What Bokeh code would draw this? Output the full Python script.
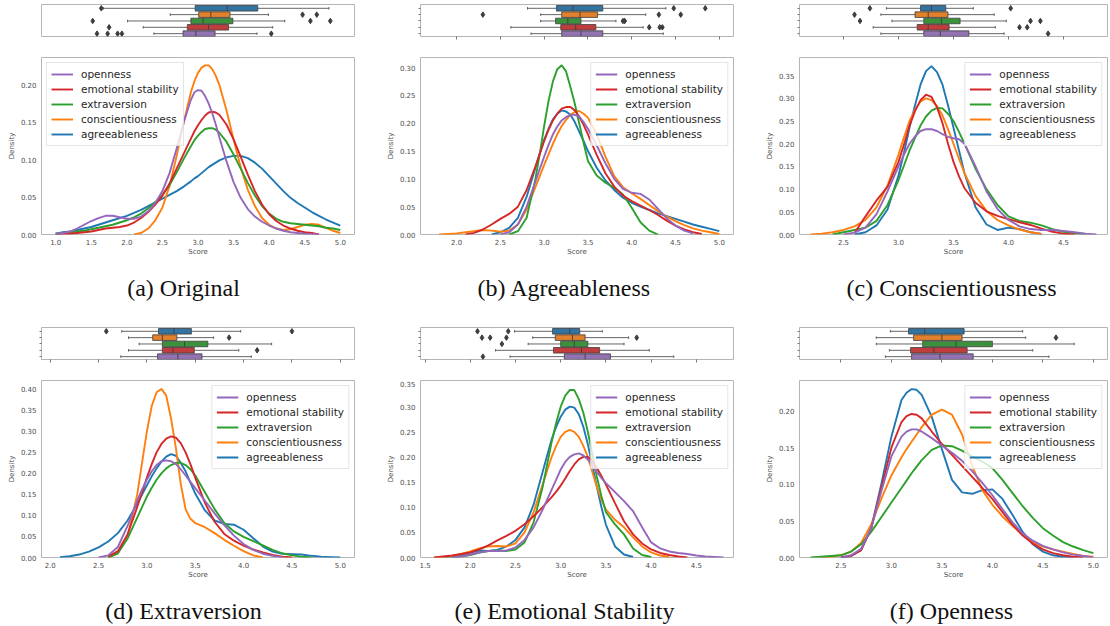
import numpy as np
from bokeh.plotting import figure
from bokeh.models import Range1d, FixedTicker, PrintfTickFormatter, CustomJSTickFormatter, Legend, LegendItem
from bokeh.layouts import column, row
from bokeh.embed import file_html
from bokeh.resources import INLINE
from bokeh.core.properties import value

# ---------------- data ----------------
LEGEND_ORDER = ["openness", "emotional stability", "extraversion", "conscientiousness", "agreeableness"]
BOX_ORDER = ["agreeableness", "conscientiousness", "extraversion", "emotional stability", "openness"]
CAPTIONS = ["(a) Original", "(b) Agreeableness", "(c) Conscientiousness",
            "(d) Extraversion", "(e) Emotional Stability", "(f) Openness"]

# panel (a)
A_X = [1.0, 1.1, 1.2, 1.3, 1.4, 1.5, 1.6, 1.7, 1.8, 1.9, 2.0, 2.1, 2.2, 2.3, 2.4, 2.5, 2.6, 2.7, 2.8, 2.9,
       3.0, 3.1, 3.2, 3.3, 3.4, 3.5, 3.6, 3.7, 3.8, 3.9, 4.0, 4.1, 4.2, 4.3, 4.4, 4.5, 4.6, 4.7, 4.8, 4.9, 5.0]
A_OPENNESS = [0.001, 0.002, 0.004, 0.008, 0.013, 0.018, 0.022, 0.025, 0.025, 0.023,
              0.021, 0.021, 0.024, 0.031, 0.042, 0.058, 0.082, 0.115, 0.150, 0.180,
              0.193, 0.185, 0.162, 0.130, 0.098, 0.070, 0.049, 0.034, 0.024, 0.017,
              0.012, 0.008, 0.005, 0.003, 0.002, 0.001, 0.0005, 0.0, None, None, None]
A_EMOTIONAL = [0.000, 0.001, 0.001, 0.002, 0.003, 0.004, 0.006, 0.008, 0.009, 0.010,
               0.012, 0.016, 0.022, 0.030, 0.040, 0.052, 0.068, 0.088, 0.108, 0.128,
               0.146, 0.159, 0.164, 0.160, 0.147, 0.127, 0.104, 0.080, 0.058, 0.040,
               0.027, 0.018, 0.012, 0.008, 0.005, 0.003, 0.002, 0.000, None, None, None]
A_EXTRAVERSION = [0.001, 0.002, 0.003, 0.004, 0.005, 0.007, 0.009, 0.011, 0.013, 0.016,
                  0.019, 0.023, 0.028, 0.035, 0.043, 0.053, 0.066, 0.083, 0.101, 0.118,
                  0.132, 0.141, 0.142, 0.136, 0.124, 0.107, 0.088, 0.069, 0.052, 0.038,
                  0.028, 0.021, 0.017, 0.015, 0.014, 0.013, 0.012, 0.011, 0.009, 0.008, 0.006]
A_CONSCIENTIOUSNESS = [None, None, None, None, None, None, None, None, None, None,
                       None, 0.000, 0.002, 0.008, 0.019, 0.036, 0.065, 0.105, 0.150, 0.190,
                       0.216, 0.226, 0.221, 0.200, 0.166, 0.127, 0.090, 0.060, 0.038, 0.022,
                       0.013, 0.008, 0.006, 0.007, 0.010, 0.013, 0.014, 0.013, 0.009, 0.005, 0.002]
A_AGREEABLENESS = [0.001, 0.003, 0.004, 0.006, 0.008, 0.010, 0.013, 0.016, 0.019, 0.022,
                   0.025, 0.029, 0.033, 0.038, 0.043, 0.048, 0.053, 0.058, 0.064, 0.071,
                   0.078, 0.086, 0.093, 0.099, 0.103, 0.105, 0.105, 0.102, 0.096, 0.088,
                   0.078, 0.068, 0.058, 0.049, 0.042, 0.036, 0.030, 0.025, 0.020, 0.016, 0.012]
A_FINE_X = [2.95, 3.05, 3.15, 3.25]
A_FINE = [[0.190, 0.192, 0.175, 0.147],     # openness
          [0.138, 0.153, 0.163, 0.163],     # emotional stability
          [0.126, 0.137, 0.142, 0.140],     # extraversion
          [0.205, 0.223, 0.226, 0.212],     # conscientiousness
          [0.075, 0.082, 0.090, 0.096]]     # agreeableness
A_LOW = [1.67, 2.61, 2.01, 2.23, 2.38]
A_Q1 = [2.96, 3.01, 2.90, 2.85, 2.79]
A_MED = [3.41, 3.18, 3.07, 3.15, 2.97]
A_Q3 = [3.84, 3.45, 3.49, 3.43, 3.24]
A_HIGH = [4.84, 3.99, 4.22, 4.05, 3.83]
A_OUT_X = [1.64, 4.47, 4.67, 1.52, 4.58, 4.86, 1.75, 1.58, 1.73, 1.87, 1.93, 4.03]
A_OUT_ROW = [0, 1, 1, 2, 2, 2, 3, 4, 4, 4, 4, 4]
A_XTICKS = [1.0, 1.5, 2.0, 2.5, 3.0, 3.5, 4.0, 4.5, 5.0]
A_YTICKS = [0.0, 0.05, 0.10, 0.15, 0.20]

# panel (b)
B_X = [1.8, 1.9, 2.0, 2.1, 2.2, 2.3, 2.4, 2.5, 2.6, 2.7, 2.8, 2.9, 3.0, 3.1, 3.2, 3.3, 3.4, 3.5, 3.6, 3.7,
       3.8, 3.9, 4.0, 4.1, 4.2, 4.3, 4.4, 4.5, 4.6, 4.7, 4.8, 4.9, 5.0]
B_OPENNESS = [None, None,
              None, None, None, None, None, 0.000, 0.004, 0.018, 0.050, 0.095,
              0.140, 0.180, 0.205, 0.215, 0.212, 0.190, 0.160, 0.128, 0.100, 0.082,
              0.075, 0.073, 0.063, 0.046, 0.029, 0.016, 0.007, 0.002, None, None, None]
B_EMOTIONAL = [None, None,
               None, 0.000, 0.003, 0.009, 0.018, 0.028, 0.037, 0.050, 0.080, 0.122,
               0.168, 0.205, 0.226, 0.229, 0.212, 0.180, 0.143, 0.110, 0.086, 0.070,
               0.060, 0.052, 0.044, 0.035, 0.025, 0.016, 0.009, 0.004, 0.001, None, None]
B_EXTRAVERSION = [None, None,
                  None, None, None, None, None, None, 0.000, 0.006, 0.030, 0.100,
                  0.195, 0.275, 0.304, 0.265, 0.200, 0.132, 0.106, 0.093, 0.084, 0.072,
                  0.048, 0.022, 0.007, 0.000, None, None, None, None, None, None, None]
B_CONSCIENTIOUSNESS = [0.000, 0.001,
                       0.002, 0.004, 0.006, 0.008, 0.007, 0.005, 0.007, 0.018, 0.045, 0.085,
                       0.125, 0.163, 0.195, 0.215, 0.222, 0.210, 0.180, 0.140, 0.105, 0.085,
                       0.074, 0.064, 0.053, 0.042, 0.032, 0.024, 0.017, 0.011, 0.007, 0.004, 0.001]
B_AGREEABLENESS = [None, None,
                   None, None, None, None, 0.000, 0.004, 0.012, 0.030, 0.068, 0.120,
                   0.170, 0.207, 0.223, 0.215, 0.185, 0.150, 0.120, 0.097, 0.080, 0.066,
                   0.057, 0.050, 0.044, 0.038, 0.033, 0.028, 0.023, 0.018, 0.014, 0.010, 0.006]
B_FINE_X = [2.95, 3.05, 3.15, 3.25, 3.35, 3.45]
B_FINE = [[0.118, 0.161, 0.194, 0.211, 0.215, 0.202],
          [0.145, 0.188, 0.217, 0.229, 0.223, 0.197],
          [0.145, 0.240, 0.297, 0.293, 0.235, 0.165],
          [0.105, 0.144, 0.180, 0.206, 0.220, 0.217],
          [0.146, 0.190, 0.217, 0.221, 0.202, 0.168]]
B_LOW = [2.81, 2.96, 2.96, 2.62, 2.85]
B_Q1 = [3.14, 3.20, 3.13, 3.19, 3.20]
B_MED = [3.33, 3.41, 3.27, 3.36, 3.42]
B_Q3 = [3.67, 3.61, 3.42, 3.59, 3.67]
B_HIGH = [4.39, 4.16, 3.82, 4.13, 4.36]
B_OUT_X = [4.48, 4.84, 2.30, 4.31, 4.56, 3.90, 3.92, 4.20, 4.32, 4.35]
B_OUT_ROW = [0, 0, 1, 1, 1, 2, 2, 3, 3, 3]
B_XTICKS = [2.0, 2.5, 3.0, 3.5, 4.0, 4.5, 5.0]
B_YTICKS = [0.0, 0.05, 0.10, 0.15, 0.20, 0.25, 0.30]

# panel (c)
C_X = [2.2, 2.3, 2.4, 2.5, 2.6, 2.7, 2.8, 2.9, 3.0, 3.1, 3.2, 3.3, 3.4, 3.5, 3.6, 3.7, 3.8, 3.9,
       4.0, 4.1, 4.2, 4.3, 4.4, 4.5, 4.6, 4.7, 4.8]
C_OPENNESS = [None, None, None, 0.000, 0.004, 0.015, 0.045, 0.095,
              0.150, 0.200, 0.228, 0.232, 0.221, 0.212, 0.200, 0.150, 0.095, 0.056,
              0.032, 0.018, 0.012, 0.010, 0.010, 0.008, 0.005, 0.002, 0.000]
C_EMOTIONAL = [None, None, None, None, 0.003, 0.040, 0.075, 0.105,
               0.160, 0.240, 0.296, 0.303, 0.245, 0.160, 0.102, 0.070, 0.051, 0.041,
               0.034, 0.027, 0.021, 0.013, 0.006, 0.002, 0.000, None, None]
C_EXTRAVERSION = [None, None, 0.000, 0.005, 0.010, 0.015, 0.030, 0.065,
                  0.120, 0.185, 0.240, 0.273, 0.278, 0.250, 0.200, 0.145, 0.100, 0.065,
                  0.040, 0.030, 0.026, 0.020, 0.012, 0.006, 0.003, 0.001, None]
C_CONSCIENTIOUSNESS = [0.000, 0.002, 0.005, 0.010, 0.018, 0.032, 0.060, 0.108,
                       0.176, 0.250, 0.293, 0.296, 0.262, 0.200, 0.135, 0.085, 0.052, 0.032,
                       0.020, 0.011, 0.005, 0.001, None, None, None, None, None]
C_AGREEABLENESS = [None, None, None, None, 0.000, 0.005, 0.020, 0.055,
                   0.130, 0.235, 0.330, 0.371, 0.330, 0.235, 0.135, 0.060, 0.022, 0.010,
                   0.015, 0.012, 0.005, 0.001, None, None, None, None, None]
C_FINE_X = [3.05, 3.15, 3.25, 3.35, 3.45, 3.55]
C_FINE = [[0.176, 0.216, 0.232, 0.228, 0.215, 0.210],
          [0.198, 0.272, 0.308, 0.280, 0.200, 0.128],
          [0.152, 0.213, 0.260, 0.279, 0.266, 0.226],
          [0.214, 0.275, 0.300, 0.283, 0.232, 0.167],
          [0.180, 0.285, 0.360, 0.358, 0.285, 0.185]]
C_LOW = [2.89, 2.84, 2.94, 2.77, 2.84]
C_Q1 = [3.20, 3.15, 3.23, 3.17, 3.23]
C_MED = [3.30, 3.27, 3.39, 3.27, 3.38]
C_Q3 = [3.43, 3.45, 3.56, 3.46, 3.64]
C_HIGH = [3.68, 3.87, 3.98, 3.88, 3.96]
C_OUT_X = [2.74, 4.02, 2.60, 2.65, 4.20, 4.29, 4.10, 4.17, 4.36]
C_OUT_ROW = [0, 0, 1, 2, 2, 2, 3, 3, 4]
C_XTICKS = [2.5, 3.0, 3.5, 4.0, 4.5]
C_YTICKS = [0.0, 0.05, 0.10, 0.15, 0.20, 0.25, 0.30, 0.35]

# panel (d)
D_X = [2.0, 2.1, 2.2, 2.3, 2.4, 2.5, 2.6, 2.7, 2.8, 2.9, 3.0, 3.1, 3.2, 3.3, 3.4, 3.5, 3.6, 3.7, 3.8, 3.9,
       4.0, 4.1, 4.2, 4.3, 4.4, 4.5, 4.6, 4.7, 4.8, 4.9, 5.0]
D_OPENNESS = [None, None, None, None, None, 0.000, 0.005, 0.025, 0.075, 0.135,
              0.185, 0.220, 0.231, 0.222, 0.195, 0.165, 0.135, 0.105, 0.077, 0.052,
              0.032, 0.018, 0.009, 0.004, 0.001, None, None, None, None, None, None]
D_EMOTIONAL = [None, None, None, None, None, None, 0.002, 0.015, 0.055, 0.120,
               0.190, 0.250, 0.283, 0.285, 0.250, 0.190, 0.130, 0.085, 0.056, 0.040,
               0.028, 0.019, 0.012, 0.006, 0.002, 0.000, None, None, None, None, None]
D_EXTRAVERSION = [None, None, None, None, None, None, 0.000, 0.010, 0.045, 0.095,
                  0.145, 0.185, 0.212, 0.225, 0.220, 0.195, 0.155, 0.115, 0.082, 0.062,
                  0.049, 0.039, 0.029, 0.018, 0.010, 0.005, 0.002, 0.000, None, None, None]
D_CONSCIENTIOUSNESS = [None, None, None, None, None, None, 0.000, 0.010, 0.050, 0.150,
                       0.300, 0.393, 0.385, 0.260, 0.115, 0.082, 0.072, 0.058, 0.042, 0.028,
                       0.015, 0.005, 0.000, None, None, None, None, None, None, None, None]
D_AGREEABLENESS = [None, 0.001, 0.003, 0.007, 0.014, 0.024, 0.038, 0.058, 0.088, 0.128,
                   0.172, 0.212, 0.240, 0.242, 0.205, 0.152, 0.112, 0.088, 0.080, 0.078,
                   0.066, 0.046, 0.026, 0.014, 0.009, 0.008, 0.007, 0.004, 0.002, 0.001, 0.000]
D_FINE_X = [2.95, 3.05, 3.15, 3.25, 3.35, 3.45]
D_FINE = [[0.162, 0.205, 0.229, 0.229, 0.210, 0.180],
          [0.155, 0.222, 0.270, 0.288, 0.272, 0.222],
          [0.120, 0.166, 0.200, 0.220, 0.225, 0.210],
          [0.225, 0.360, 0.401, 0.330, 0.175, 0.092],
          [0.150, 0.193, 0.228, 0.246, 0.225, 0.178]]
D_LOW = [2.74, 2.81, 2.92, 2.81, 2.73]
D_Q1 = [3.12, 3.06, 3.16, 3.16, 3.11]
D_MED = [3.28, 3.16, 3.39, 3.27, 3.32]
D_Q3 = [3.46, 3.31, 3.63, 3.49, 3.57]
D_HIGH = [3.97, 3.69, 4.29, 3.95, 4.08]
D_OUT_X = [2.58, 4.50, 3.85, 4.14]
D_OUT_ROW = [0, 0, 1, 3]
D_XTICKS = [2.0, 2.5, 3.0, 3.5, 4.0, 4.5, 5.0]
D_YTICKS = [0.0, 0.05, 0.10, 0.15, 0.20, 0.25, 0.30, 0.35, 0.40]

# panel (e)
E_X = [1.6, 1.7, 1.8, 1.9, 2.0, 2.1, 2.2, 2.3, 2.4, 2.5, 2.6, 2.7, 2.8, 2.9, 3.0, 3.1, 3.2, 3.3, 3.4, 3.5,
       3.6, 3.7, 3.8, 3.9, 4.0, 4.1, 4.2, 4.3, 4.4, 4.5, 4.6, 4.7, 4.8]
E_OPENNESS = [None, None, 0.000, 0.002,
              0.006, 0.010, 0.013, 0.013, 0.014, 0.020, 0.035, 0.060, 0.095, 0.135,
              0.175, 0.200, 0.207, 0.195, 0.170, 0.148, 0.130, 0.112, 0.092, 0.060,
              0.030, 0.018, 0.012, 0.009, 0.007, 0.004, 0.002, 0.001, 0.000]
E_EMOTIONAL = [0.000, 0.002, 0.004, 0.007,
               0.010, 0.016, 0.024, 0.034, 0.043, 0.053, 0.066, 0.082, 0.100, 0.120,
               0.143, 0.172, 0.195, 0.200, 0.178, 0.145, 0.108, 0.072, 0.046, 0.028,
               0.016, 0.009, 0.005, 0.002, 0.000, None, None, None, None]
E_EXTRAVERSION = [None, None, 0.000, 0.002,
                  0.005, 0.010, 0.013, 0.014, 0.013, 0.016, 0.030, 0.070, 0.140, 0.230,
                  0.300, 0.333, 0.315, 0.250, 0.160, 0.090, 0.066, 0.046, 0.018, 0.005,
                  0.001, None, None, None, None, None, None, None, None]
E_CONSCIENTIOUSNESS = [0.000, 0.001, 0.003, 0.007,
                       0.012, 0.018, 0.022, 0.023, 0.022, 0.028, 0.050, 0.090, 0.145, 0.200,
                       0.240, 0.254, 0.240, 0.200, 0.140, 0.095, 0.075, 0.060, 0.040, 0.022,
                       0.010, 0.004, 0.001, None, None, None, None, None, None]
E_AGREEABLENESS = [None, 0.000, 0.002, 0.005,
                   0.010, 0.014, 0.013, 0.015, 0.022, 0.035, 0.060, 0.105, 0.170, 0.235,
                   0.280, 0.300, 0.285, 0.225, 0.140, 0.065, 0.022, 0.006, 0.001, None,
                   None, None, None, None, None, None, None, None, None]
E_FINE_X = [2.85, 2.95, 3.05, 3.15, 3.25, 3.35, 3.45]
E_FINE = [[0.115, 0.155, 0.190, 0.205, 0.203, 0.183, 0.158],
          [0.110, 0.131, 0.157, 0.185, 0.200, 0.192, 0.162],
          [0.185, 0.268, 0.322, 0.333, 0.288, 0.205, 0.122],
          [0.173, 0.222, 0.250, 0.250, 0.222, 0.170, 0.115],
          [0.203, 0.260, 0.294, 0.298, 0.260, 0.183, 0.100]]
E_LOW = [2.49, 2.69, 2.64, 2.28, 2.44]
E_Q1 = [2.91, 2.94, 3.00, 2.92, 3.04]
E_MED = [3.10, 3.13, 3.15, 3.23, 3.27]
E_Q3 = [3.21, 3.27, 3.30, 3.43, 3.55]
E_HIGH = [3.46, 3.75, 3.70, 3.98, 4.25]
E_OUT_X = [2.08, 2.42, 2.13, 2.22, 2.40, 3.84, 2.35, 2.14]
E_OUT_ROW = [0, 0, 1, 1, 1, 1, 2, 4]
E_XTICKS = [1.5, 2.0, 2.5, 3.0, 3.5, 4.0, 4.5]
E_YTICKS = [0.0, 0.05, 0.10, 0.15, 0.20, 0.25, 0.30, 0.35]

# panel (f)
F_X = [2.2, 2.3, 2.4, 2.5, 2.6, 2.7, 2.8, 2.9, 3.0, 3.1, 3.2, 3.3, 3.4, 3.5, 3.6, 3.7, 3.8, 3.9,
       4.0, 4.1, 4.2, 4.3, 4.4, 4.5, 4.6, 4.7, 4.8, 4.9, 5.0]
F_OPENNESS = [None, None, None, 0.000, 0.003, 0.012, 0.040, 0.090,
              0.138, 0.165, 0.175, 0.172, 0.163, 0.153, 0.143, 0.132, 0.118, 0.102,
              0.085, 0.066, 0.048, 0.033, 0.023, 0.016, 0.011, 0.007, 0.004, 0.002, 0.000]
F_EMOTIONAL = [None, None, None, 0.000, 0.002, 0.010, 0.040, 0.095,
               0.150, 0.185, 0.196, 0.190, 0.172, 0.155, 0.140, 0.125, 0.110, 0.095,
               0.080, 0.062, 0.045, 0.030, 0.019, 0.011, 0.006, 0.003, 0.001, 0.000, None]
F_EXTRAVERSION = [0.000, 0.001, 0.002, 0.003, 0.008, 0.018, 0.035, 0.055,
                  0.075, 0.095, 0.115, 0.133, 0.147, 0.153, 0.152, 0.146, 0.138, 0.131,
                  0.122, 0.106, 0.088, 0.070, 0.054, 0.040, 0.030, 0.021, 0.015, 0.010, 0.006]
F_CONSCIENTIOUSNESS = [None, 0.000, 0.001, 0.003, 0.008, 0.020, 0.045, 0.080,
                       0.112, 0.137, 0.158, 0.178, 0.195, 0.202, 0.195, 0.168, 0.125, 0.092,
                       0.072, 0.056, 0.043, 0.031, 0.021, 0.015, 0.011, 0.008, 0.005, 0.002, 0.001]
F_AGREEABLENESS = [None, None, None, 0.000, 0.002, 0.010, 0.040, 0.100,
                   0.165, 0.215, 0.230, 0.222, 0.192, 0.148, 0.106, 0.089, 0.087, 0.092,
                   0.093, 0.080, 0.058, 0.035, 0.018, 0.008, 0.003, 0.001, 0.000, None, None]
F_FINE_X = [3.15, 3.25]
F_FINE = [[0.172, 0.175],
          [0.193, 0.195],
          [0.105, 0.124],
          [0.148, 0.168],
          [0.225, 0.229]]
F_LOW = [2.99, 2.85, 2.85, 2.98, 2.94]
F_Q1 = [3.17, 3.22, 3.31, 3.19, 3.20]
F_MED = [3.33, 3.50, 3.64, 3.42, 3.48]
F_Q3 = [3.72, 3.70, 4.00, 3.75, 3.81]
F_HIGH = [4.30, 4.33, 4.81, 4.40, 4.56]
F_OUT_X = [4.63]
F_OUT_ROW = [1]
F_XTICKS = [2.5, 3.0, 3.5, 4.0, 4.5, 5.0]
F_YTICKS = [0.0, 0.05, 0.10, 0.15, 0.20]

# ---------------- styling ----------------
LINE_COLORS = {"openness": "#9467bd", "emotional stability": "#d62728", "extraversion": "#2ca02c",
               "conscientiousness": "#ff7f0e", "agreeableness": "#1f77b4"}
BOX_COLORS = ["#3274a1", "#e1812c", "#3a923a", "#c03d3e", "#9372b2"]
EDGE = "#3d3d3d"
FONT = "DejaVu Sans"

PANELS = [
    dict(grid=A_X, curves=[A_OPENNESS, A_EMOTIONAL, A_EXTRAVERSION, A_CONSCIENTIOUSNESS, A_AGREEABLENESS],
         fx=A_FINE_X, fine=A_FINE,
         box=(A_LOW, A_Q1, A_MED, A_Q3, A_HIGH), out=(A_OUT_X, A_OUT_ROW), xr=(0.80, 5.20), ymax=0.2365,
         xt=A_XTICKS, yt=A_YTICKS, loc="top_left", ticks=False),
    dict(grid=B_X, curves=[B_OPENNESS, B_EMOTIONAL, B_EXTRAVERSION, B_CONSCIENTIOUSNESS, B_AGREEABLENESS],
         fx=B_FINE_X, fine=B_FINE,
         box=(B_LOW, B_Q1, B_MED, B_Q3, B_HIGH), out=(B_OUT_X, B_OUT_ROW), xr=(1.5875, 5.1625), ymax=0.318,
         xt=B_XTICKS, yt=B_YTICKS, loc="top_right", ticks=True),
    dict(grid=C_X, curves=[C_OPENNESS, C_EMOTIONAL, C_EXTRAVERSION, C_CONSCIENTIOUSNESS, C_AGREEABLENESS],
         fx=C_FINE_X, fine=C_FINE,
         box=(C_LOW, C_Q1, C_MED, C_Q3, C_HIGH), out=(C_OUT_X, C_OUT_ROW), xr=(2.10, 4.90), ymax=0.390,
         xt=C_XTICKS, yt=C_YTICKS, loc="top_right", ticks=True),
    dict(grid=D_X, curves=[D_OPENNESS, D_EMOTIONAL, D_EXTRAVERSION, D_CONSCIENTIOUSNESS, D_AGREEABLENESS],
         fx=D_FINE_X, fine=D_FINE,
         box=(D_LOW, D_Q1, D_MED, D_Q3, D_HIGH), out=(D_OUT_X, D_OUT_ROW), xr=(1.91, 5.147), ymax=0.421,
         xt=D_XTICKS, yt=D_YTICKS, loc="top_right", ticks=True),
    dict(grid=E_X, curves=[E_OPENNESS, E_EMOTIONAL, E_EXTRAVERSION, E_CONSCIENTIOUSNESS, E_AGREEABLENESS],
         fx=E_FINE_X, fine=E_FINE,
         box=(E_LOW, E_Q1, E_MED, E_Q3, E_HIGH), out=(E_OUT_X, E_OUT_ROW), xr=(1.45, 4.91), ymax=0.352,
         xt=E_XTICKS, yt=E_YTICKS, loc="top_right", ticks=True),
    dict(grid=F_X, curves=[F_OPENNESS, F_EMOTIONAL, F_EXTRAVERSION, F_CONSCIENTIOUSNESS, F_AGREEABLENESS],
         fx=F_FINE_X, fine=F_FINE,
         box=(F_LOW, F_Q1, F_MED, F_Q3, F_HIGH), out=(F_OUT_X, F_OUT_ROW), xr=(2.09, 5.14), ymax=0.2417,
         xt=F_XTICKS, yt=F_YTICKS, loc="top_right", ticks=True),
]

# layout geometry (page pixels)
COL_ML = [41, 42, 51]
COL_FW = [313, 313, 308]
COL_MR = [24, 15, 1]
CAP_CX = [183, 564, 951]          # caption centres on the page
COL_X0 = [0, 378, 748]
CAP_H = [59, 37]
CAP_BASE = [23, 23]
BOX_FH = 32
KDE_FH = 177


def style_axis(ax, ticks, fmt, tick_out=0, label=None):
    ax.ticker = FixedTicker(ticks=ticks)
    ax.formatter = fmt
    ax.axis_line_color = None
    ax.major_tick_out = tick_out
    ax.major_tick_in = 0
    ax.minor_tick_out = 0
    ax.minor_tick_in = 0
    ax.major_tick_line_color = "#555555"
    ax.major_tick_line_width = 0.8
    ax.major_label_text_font = FONT
    ax.major_label_text_font_size = "7px"
    ax.major_label_text_color = "#4d4d4d"
    if label is not None:
        ax.axis_label = label
        ax.axis_label_text_font = FONT
        ax.axis_label_text_font_size = "7px"
        ax.axis_label_text_font_style = "normal"
        ax.axis_label_text_color = "#4d4d4d"


def make_box(panel, c, xr):
    p = figure(frame_width=COL_FW[c], frame_height=BOX_FH, x_range=xr, y_range=Range1d(4.45, -0.6),
               toolbar_location=None, output_backend="svg",
               min_border_left=COL_ML[c], min_border_right=COL_MR[c], min_border_top=4, min_border_bottom=21)
    p.grid.visible = False
    p.outline_line_color = "#b5b5b5"
    p.outline_line_width = 1
    style_axis(p.xaxis[0], panel["xt"], CustomJSTickFormatter(code="return ''"),
               tick_out=3 if panel["ticks"] else 0)
    style_axis(p.yaxis[0], [0, 1, 2, 3, 4], CustomJSTickFormatter(code="return ''"),
               tick_out=2 if panel["ticks"] else 0)
    p.xaxis[0].major_label_standoff = 0
    p.yaxis[0].major_label_standoff = 0
    lo, q1, med, q3, hi = [np.array(v, dtype=float) for v in panel["box"]]
    ys = np.arange(len(BOX_ORDER), dtype=float)
    p.segment(x0=lo, y0=ys, x1=q1, y1=ys, line_color=EDGE, line_width=0.8)
    p.segment(x0=q3, y0=ys, x1=hi, y1=ys, line_color=EDGE, line_width=0.8)
    p.segment(x0=lo, y0=ys - 0.2, x1=lo, y1=ys + 0.2, line_color=EDGE, line_width=0.8)
    p.segment(x0=hi, y0=ys - 0.2, x1=hi, y1=ys + 0.2, line_color=EDGE, line_width=0.8)
    p.hbar(y=ys, left=q1, right=q3, height=0.88, fill_color=BOX_COLORS, line_color=EDGE, line_width=0.8)
    p.segment(x0=med, y0=ys - 0.44, x1=med, y1=ys + 0.44, line_color=EDGE, line_width=0.9)
    ox, orow = panel["out"]
    p.scatter(x=ox, y=orow, marker="diamond", size=5.5, fill_color=EDGE, line_color=EDGE)
    return p


def make_kde(panel, c, xr):
    p = figure(frame_width=COL_FW[c], frame_height=KDE_FH, x_range=xr, y_range=Range1d(0, panel["ymax"]),
               toolbar_location=None, output_backend="svg",
               min_border_left=COL_ML[c], min_border_right=COL_MR[c], min_border_top=0, min_border_bottom=30)
    p.grid.visible = False
    p.outline_line_color = "#b5b5b5"
    p.outline_line_width = 1
    style_axis(p.xaxis[0], panel["xt"], PrintfTickFormatter(format="%.1f"), label="Score")
    style_axis(p.yaxis[0], panel["yt"], PrintfTickFormatter(format="%.2f"), label="Density")
    p.xaxis[0].major_label_standoff = 4
    p.xaxis[0].axis_label_standoff = 0
    p.yaxis[0].major_label_standoff = 5
    p.yaxis[0].axis_label_standoff = 2
    rends = {}
    entries = list(zip(LEGEND_ORDER, panel["curves"], panel["fine"]))
    for name, vals, fvals in reversed(entries):
        xs = np.concatenate([np.array(panel["grid"], dtype=float), np.array(panel["fx"], dtype=float)])
        ys = np.concatenate([np.array(vals, dtype=float), np.array(fvals, dtype=float)])
        order = np.argsort(xs, kind="stable")
        rends[name] = p.line(xs[order], ys[order], line_color=LINE_COLORS[name], line_width=1.9)
    items = [LegendItem(label=n, renderers=[rends[n]]) for n in LEGEND_ORDER]
    leg = Legend(items=items, location=panel["loc"], label_text_font=FONT, label_text_font_size="10.5px",
                 label_text_color="#262626", glyph_width=22, glyph_height=14, label_height=14,
                 label_standoff=8, padding=4, spacing=1, margin=5,
                 border_line_color="#cccccc", border_line_width=1, background_fill_alpha=0.8)
    p.add_layout(leg)
    return p


def make_caption(c, r, text):
    fw = COL_FW[c]
    h = CAP_H[r]
    p = figure(frame_width=fw, frame_height=h, x_range=Range1d(0, fw), y_range=Range1d(0, h),
               toolbar_location=None, output_backend="svg", x_axis_location=None, y_axis_location=None,
               min_border_left=COL_ML[c], min_border_right=COL_MR[c], min_border_top=0, min_border_bottom=0)
    p.outline_line_color = None
    p.xgrid.visible = False
    p.ygrid.visible = False
    cx = CAP_CX[c] - COL_X0[c] - COL_ML[c]
    p.text(x=[cx], y=[h - CAP_BASE[r]], text=[text], text_align="center", text_baseline="alphabetic",
           text_font=value("Liberation Serif"), text_font_size="24px", text_color="#111111")
    return p


rows = []
for r in range(2):
    cols = []
    for c in range(3):
        panel = PANELS[r * 3 + c]
        xr = Range1d(*panel["xr"])
        cols.append(column(make_box(panel, c, xr), make_kde(panel, c, xr), make_caption(c, r, CAPTIONS[r * 3 + c])))
    rows.append(row(*cols))
layout = column(*rows)

open("out.html", "w").write(file_html(layout, INLINE))
